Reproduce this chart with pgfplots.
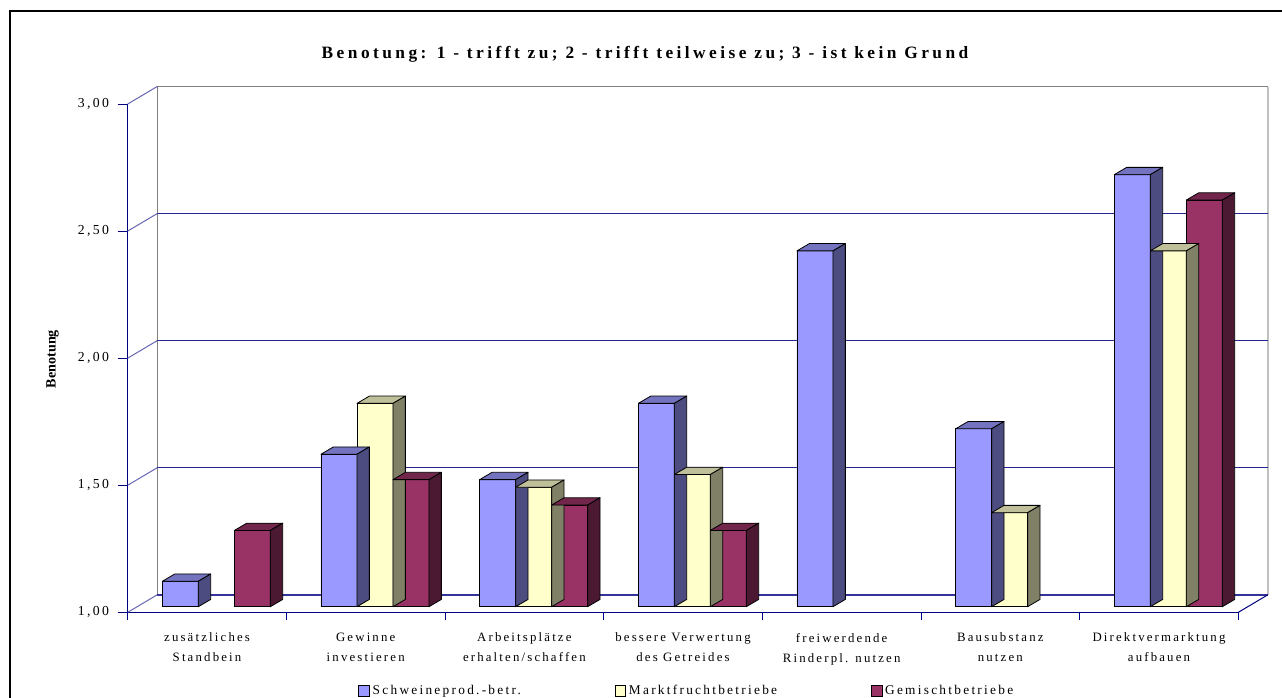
\documentclass[border=0pt]{standalone}
\usepackage{fontspec}
\setmainfont{Liberation Serif}
\newfontfamily\spacedfont[LetterSpace=17]{Liberation Serif}
\newfontfamily\titlefont[LetterSpace=20]{Liberation Serif}
\usepackage{pgfplots}
\usepackage{pgfplotstable}
\pgfplotsset{compat=1.18}

% one screen pixel
\newlength\pxu
\setlength\pxu{0.75pt}

\definecolor{axisnavy}{HTML}{000080}
\definecolor{wallgray}{HTML}{808080}
\definecolor{edgegray}{HTML}{C0C0C0}
\definecolor{sFront}{HTML}{9999FF}
\definecolor{sTop}{HTML}{7373BF}
\definecolor{sSide}{HTML}{4C4C80}
\definecolor{mFront}{HTML}{FFFFCC}
\definecolor{mTop}{HTML}{BFBF99}
\definecolor{mSide}{HTML}{808066}
\definecolor{gFront}{HTML}{993366}
\definecolor{gTop}{HTML}{73264C}
\definecolor{gSide}{HTML}{4C1933}

% mean grades (1 = trifft zu ... 3 = ist kein Grund), category index 0..6
\pgfplotstableread{
x    v
0.5  1.10
1.5  1.60
2.5  1.50
3.5  1.80
4.5  2.40
5.5  1.70
6.5  2.70
}\schweine
\pgfplotstableread{
x    v
1.5  1.80
2.5  1.47
3.5  1.52
5.5  1.37
6.5  2.40
}\markt
\pgfplotstableread{
x    v
0.5  1.30
1.5  1.50
2.5  1.40
3.5  1.30
6.5  2.60
}\gemischt

\pgfplotsset{
  % front face of a column, drawn as an ordinary bar from grade 1 upwards
  front/.style 2 args={ybar, forget plot, bar width=36\pxu, bar shift=#1\pxu,
    yshift=5.6\pxu, fill=#2, draw=black, line width=0.8\pxu},
  % top and side face of the same column (#1 = bar shift in px)
  faces/.style n args={3}{forget plot, only marks, scatter, mark=*,
    mark size=0pt, mark options={draw=none, fill=none},
    visualization depends on={rawy \as \hv},
    scatter/@pre marker code/.code={%
      \pgfmathsetlengthmacro\hh{\hv*254.15*0.75pt}%
      \filldraw[fill=#2, draw=black, line width=0.8\pxu, line join=round]
        ({(#1-18)*0.75pt},4.2pt) -- ({(#1+18)*0.75pt},4.2pt)
        -- ({(#1+30.4)*0.75pt},9.675pt) -- ({(#1-5.6)*0.75pt},9.675pt) -- cycle;
      \filldraw[fill=#3, draw=black, line width=0.8\pxu, line join=round]
        ({(#1+18)*0.75pt},4.2pt) -- ({(#1+30.4)*0.75pt},9.675pt)
        -- ({(#1+30.4)*0.75pt},{9.675pt-\hh})
        -- ({(#1+18)*0.75pt},{4.2pt-\hh}) -- cycle;
    },
    scatter/@post marker code/.code={},
  },
  legsq/.style={legend image code/.code={%
      \draw[##1, draw=black, line width=0.8\pxu]
        (0pt,-4.1pt) rectangle (8.2pt,4.1pt);}},
}

\begin{document}
\begin{tikzpicture}
\useasboundingbox (0,0) rectangle (1282\pxu,-697\pxu);
% outer frame
\draw[black, line width=2.5\pxu] (10\pxu,-740\pxu) -- (10\pxu,-11\pxu) -- (1320\pxu,-11\pxu);
% title and axis label
\node[font=\titlefont\bfseries\fontsize{13}{15}\selectfont, anchor=base]
  at (645\pxu,-58.7\pxu) {Benotung: 1 - trifft zu; 2 - trifft teilweise zu; 3 - ist kein Grund};
\node[rotate=90, font=\bfseries\fontsize{10.6}{12}\selectfont]
  at (52.5\pxu,-359\pxu) {Benotung};

\begin{axis}[
  at={(127.7\pxu,-612.3\pxu)}, anchor=south west,
  x=158.66\pxu, y=254.15\pxu,
  xmin=0, xmax=7, ymin=0, ymax=2,
  clip=false,
  axis x line*=bottom, axis y line*=left,
  axis line style={draw=axisnavy, line width=1\pxu},
  tick align=outside,
  major tick length=10\pxu,
  xtick={0.5,1.5,...,6.5},
  xticklabels={{zusätzliches\\Standbein},{Gewinne\\investieren},
    {Arbeitsplätze\\erhalten/schaffen},{bessere Verwertung\\des Getreides},
    {freiwerdende\\Rinderpl. nutzen},{Bausubstanz\\nutzen},
    {Direktvermarktung\\aufbauen}},
  xtick style={draw=none},
  xticklabel style={align=center, anchor=north, yshift=-6\pxu,
    font=\spacedfont\fontsize{9.6}{15}\selectfont},
  ytick={0,0.5,1,1.5,2},
  yticklabels={{1,00},{1,50},{2,00},{2,50},{3,00}},
  ytick style={draw=axisnavy, line width=1\pxu},
  yticklabel style={font=\spacedfont\fontsize{10.3}{12}\selectfont, xshift=-4\pxu},
  legend columns=3,
  legend style={draw=none, fill=none, at={(0.2074,-0.1548)}, anchor=west,
    inner sep=0pt, font=\spacedfont\fontsize{10}{11}\selectfont,
    /tikz/every even column/.append style={column sep=91\pxu}},
]
% back wall, side wall edge and floor
\draw[wallgray, line width=1\pxu] ([shift={(29.5\pxu,17.5\pxu)}]axis cs:0,0)
  -- ([shift={(29.5\pxu,17.5\pxu)}]axis cs:0,2)
  -- ([shift={(29.5\pxu,17.5\pxu)}]axis cs:7,2);
\draw[edgegray, line width=2\pxu] ([shift={(29.5\pxu,17.5\pxu)}]axis cs:7,2)
  -- ([shift={(29.5\pxu,17.5\pxu)}]axis cs:7,0);
\pgfplotsinvokeforeach{0.5,1,1.5}{
  \draw[axisnavy!85, line width=1\pxu] ([shift={(29.5\pxu,17.5\pxu)}]axis cs:0,#1)
    -- ([shift={(29.5\pxu,17.5\pxu)}]axis cs:7,#1);
}
\pgfplotsinvokeforeach{0,0.5,1,1.5,2}{
  \draw[axisnavy!60, line width=1\pxu] (axis cs:0,#1)
    -- ([shift={(29.5\pxu,17.5\pxu)}]axis cs:0,#1);
}
\draw[axisnavy!80, line width=2\pxu] ([shift={(29.5\pxu,17.5\pxu)}]axis cs:0,0)
  -- ([shift={(29.5\pxu,17.5\pxu)}]axis cs:7,0);
\draw[axisnavy, line width=1\pxu] (axis cs:7,0)
  -- ([shift={(29.5\pxu,17.5\pxu)}]axis cs:7,0);
% category separators on the front edge
\pgfplotsinvokeforeach{0,1,...,7}{
  \draw[axisnavy, line width=1\pxu] (axis cs:#1,0) -- ++(0,-8\pxu);
}

% columns, series by series
\addplot[front={-26.7}{sFront}] table[x=x, y expr=\thisrow{v}-1] {\schweine};
\addplot[faces={-26.7}{sTop}{sSide}] table[x=x, y expr=\thisrow{v}-1] {\schweine};
\addplot[front={9.3}{mFront}] table[x=x, y expr=\thisrow{v}-1] {\markt};
\addplot[faces={9.3}{mTop}{mSide}] table[x=x, y expr=\thisrow{v}-1] {\markt};
\addplot[front={45.3}{gFront}] table[x=x, y expr=\thisrow{v}-1] {\gemischt};
\addplot[faces={45.3}{gTop}{gSide}] table[x=x, y expr=\thisrow{v}-1] {\gemischt};

\addlegendimage{legsq, fill=sFront}
\addlegendentry{Schweineprod.-betr.}
\addlegendimage{legsq, fill=mFront}
\addlegendentry{Marktfruchtbetriebe}
\addlegendimage{legsq, fill=gFront}
\addlegendentry{Gemischtbetriebe}
\end{axis}
\end{tikzpicture}
\end{document}
